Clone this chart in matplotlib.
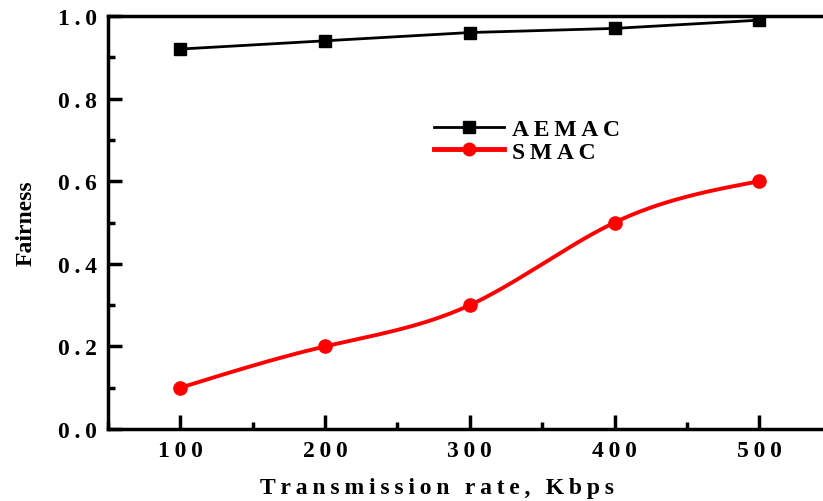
import numpy as np
import matplotlib.pyplot as plt
from matplotlib.ticker import MultipleLocator

rate = [100, 200, 300, 400, 500]
aemac = [0.92, 0.94, 0.96, 0.97, 0.99]
smac = [0.10, 0.20, 0.30, 0.50, 0.60]
yticks = [0.0, 0.2, 0.4, 0.6, 0.8, 1.0]

TS = "\u2009"  # thin space, the labels are printed with loose letter spacing


def spaced(s):
    return TS.join(s)


def natural_spline(x, y, n=200):
    # plain natural cubic spline, used only for drawing the smooth curve
    x = np.asarray(x, float)
    y = np.asarray(y, float)
    k = len(x)
    h = np.diff(x)
    A = np.zeros((k, k))
    b = np.zeros(k)
    A[0, 0] = A[-1, -1] = 1
    for i in range(1, k - 1):
        A[i, i - 1] = h[i - 1]
        A[i, i] = 2 * (h[i - 1] + h[i])
        A[i, i + 1] = h[i]
        b[i] = 6 * ((y[i + 1] - y[i]) / h[i] - (y[i] - y[i - 1]) / h[i - 1])
    m = np.linalg.solve(A, b)
    xs = np.linspace(x[0], x[-1], n)
    ys = np.empty_like(xs)
    for j, t in enumerate(xs):
        i = min(np.searchsorted(x, t) - 1, k - 2)
        i = max(i, 0)
        a = x[i + 1] - t
        c = t - x[i]
        ys[j] = (m[i] * a**3 + m[i + 1] * c**3) / (6 * h[i]) \
            + (y[i] / h[i] - m[i] * h[i] / 6) * a \
            + (y[i + 1] / h[i] - m[i + 1] * h[i] / 6) * c
    return xs, ys


plt.rcParams['font.family'] = ['Liberation Serif', 'DejaVu Serif']
plt.rcParams['font.weight'] = 'bold'
plt.rcParams['axes.labelweight'] = 'bold'

fig = plt.figure(figsize=(8.23, 5.02), dpi=100)
ax = fig.add_axes([0.1312, 0.1434, 0.8794, 0.8227])

ax.plot(rate, aemac, color='black', lw=2, marker='s', ms=9, label=spaced('AEMAC'))
xs, ys = natural_spline(rate, smac)
ax.plot(xs, ys, color='red', lw=2.8)
ax.plot(rate, smac, color='red', lw=0, marker='o', ms=9.5)
# legend proxy for the red series
ax.plot([], [], color='red', lw=3.5, marker='o', ms=9, label=spaced('SMAC'))

ax.set_xlim(50, 550)
ax.set_ylim(0, 1.0)
ax.set_xticks(rate)
ax.set_xticklabels([spaced(str(r)) for r in rate])
ax.set_yticks(yticks)
ax.set_yticklabels([spaced('%.1f' % v) for v in yticks])
ax.xaxis.set_minor_locator(MultipleLocator(50))
ax.yaxis.set_minor_locator(MultipleLocator(0.1))

ax.tick_params(which='both', direction='in', labelsize=17, width=2.5)
ax.tick_params(which='major', length=10, pad=8)
ax.tick_params(which='minor', length=5)
ax.tick_params(top=False, right=False, which='both')
for sp in ax.spines.values():
    sp.set_linewidth(2.5)

ax.set_xlabel(spaced('Transmission rate, Kbps'), fontsize=17)
ax.xaxis.set_label_coords(0.455, -0.115)
ax.set_ylabel('Fairness', fontsize=17, labelpad=15)

ax.legend(loc='upper left', bbox_to_anchor=(0.45, 0.752), frameon=False,
          fontsize=17, handlelength=3.0, handletextpad=0.3, labelspacing=0.05,
          borderaxespad=0, borderpad=0)

fig.savefig('out.png', dpi=100)
